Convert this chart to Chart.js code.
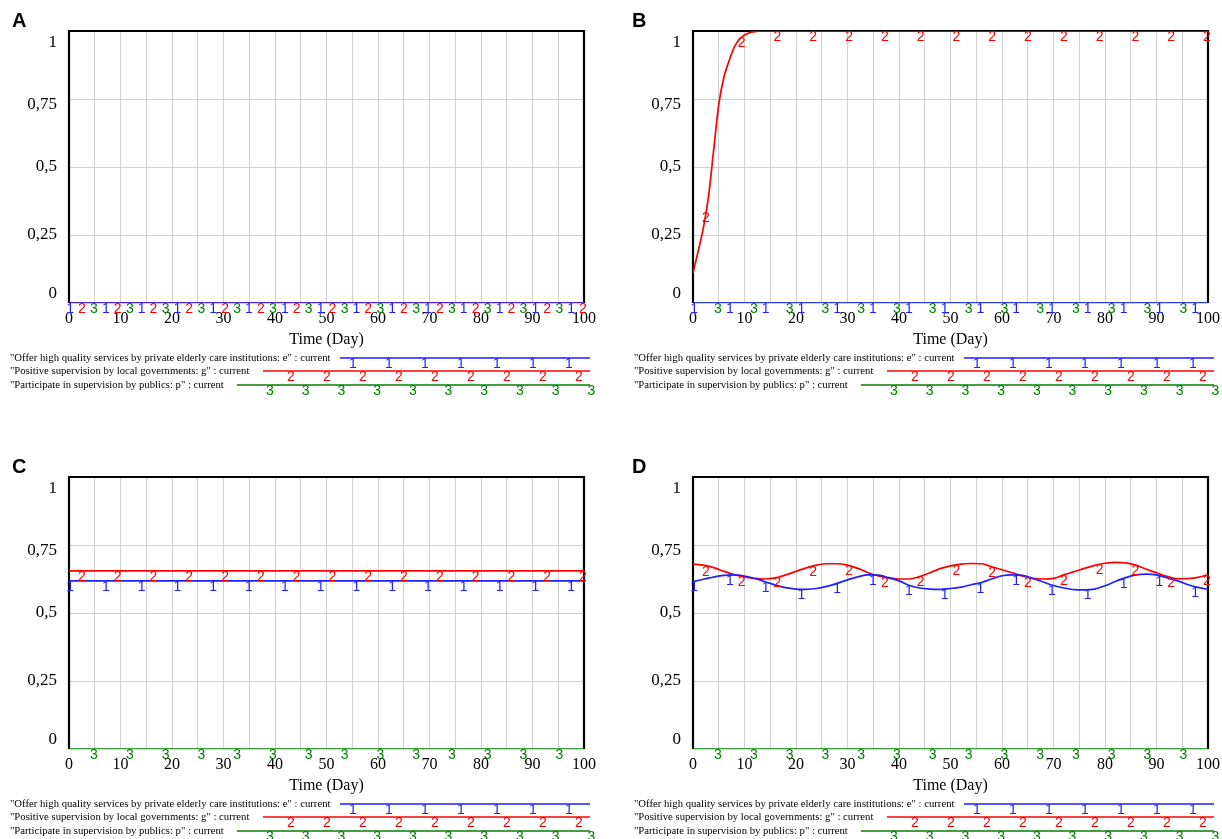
<!DOCTYPE html>
<html><head><meta charset="utf-8">
<script src="https://cdn.jsdelivr.net/npm/chart.js@4.4.1/dist/chart.umd.min.js"></script>
<style>
html,body{margin:0;padding:0;background:#fff;width:1222px;height:839px;overflow:hidden}
canvas{position:absolute}
</style></head><body>
<canvas id="cA" width="598" height="400" style="left:0px;top:0px"></canvas>
<canvas id="cB" width="598" height="400" style="left:624px;top:0px"></canvas>
<canvas id="cC" width="598" height="393" style="left:0px;top:446px"></canvas>
<canvas id="cD" width="598" height="393" style="left:624px;top:446px"></canvas>
<script>
// ---------- data ----------
const X_TICK_LABELS = ['0','10','20','30','40','50','60','70','80','90','100'];
const Y_TICK_LABELS = ['0','0,25','0,5','0,75','1'];
const SERIES_NAMES = [
  '"Offer high quality services by private elderly care institutions: e" : current',
  '"Positive supervision by local governments: g" : current',
  '"Participate in supervision by publics: p" : current'
];
const PANEL_LETTERS = ['A','B','C','D'];

// Panel A
const TIME_A = [0,10,20,30,40,50,60,70,80,90,100];
const A_E = [0,0,0,0,0,0,0,0,0,0,0];
const A_G = [0,0,0,0,0,0,0,0,0,0,0];
const A_P = [0,0,0,0,0,0,0,0,0,0,0];

// Panel B
const TIME_B = [0,1,2,3,4,5,6,7,8,9,10,11,12,13,14,15,20,25,30,35,40,45,50,55,60,65,70,75,80,85,90,95,100];
const B_E = [0,0,0,0,0,0,0,0,0,0,0,0,0,0,0,0,0,0,0,0,0,0,0,0,0,0,0,0,0,0,0,0,0];
const B_G = [0.11,0.19,0.275,0.39,0.56,0.73,0.83,0.89,0.94,0.97,0.985,0.994,0.998,1,1,1,1,1,1,1,1,1,1,1,1,1,1,1,1,1,1,1,1];
const B_P = [0,0,0,0,0,0,0,0,0,0,0,0,0,0,0,0,0,0,0,0,0,0,0,0,0,0,0,0,0,0,0,0,0];

// Panel C
const TIME_C = [0,10,20,30,40,50,60,70,80,90,100];
const C_E = [0.618,0.618,0.618,0.618,0.618,0.618,0.618,0.618,0.618,0.618,0.618];
const C_G = [0.655,0.655,0.655,0.655,0.655,0.655,0.655,0.655,0.655,0.655,0.655];
const C_P = [0,0,0,0,0,0,0,0,0,0,0];

// Panel D
const TIME_D = [0,2,4,6,8,10,12,14,16,18,20,22,24,26,28,30,32,34,36,38,40,42,44,46,48,50,
  52,54,56,58,60,62,64,66,68,70,72,74,76,78,80,82,84,86,88,90,92,94,96,98,100];
const D_E = [0.615,0.624,0.632,0.638,0.640,0.636,0.627,0.615,0.603,0.593,0.588,0.587,0.590,0.598,0.609,0.622,0.633,0.640,0.639,0.630,0.618,0.601,0.592,0.588,0.587,0.590,
  0.595,0.604,0.612,0.625,0.637,0.640,0.638,0.627,0.614,0.601,0.592,0.586,0.585,0.588,0.600,0.616,0.630,0.640,0.643,0.640,0.630,0.619,0.605,0.594,0.587];
const D_G = [0.680,0.676,0.667,0.653,0.641,0.633,0.627,0.625,0.629,0.640,0.653,0.666,0.676,0.681,0.681,0.676,0.664,0.648,0.636,0.628,0.625,0.625,0.634,0.648,0.663,0.673,
  0.680,0.682,0.681,0.670,0.659,0.648,0.636,0.627,0.625,0.627,0.640,0.652,0.664,0.675,0.683,0.686,0.684,0.676,0.661,0.648,0.635,0.626,0.626,0.631,0.640];
const D_P = [0,0,0,0,0,0,0,0,0,0,0,0,0,0,0,0,0,0,0,0,0,0,0,0,0,0,
  0,0,0,0,0,0,0,0,0,0,0,0,0,0,0,0,0,0,0,0,0,0,0,0,0];

// ---------- style ----------
const COLORS = ['#1f1fff','#ff0000','#008000'];
const MARK_CHARS = ['1','2','3'];
const MARK_START = [0.2, 2.5, 4.85];
const MARK_STEP = 6.95;
// vertical shift (px) of each y tick label, by tick index (0 = bottom)
const Y_LABEL_SHIFT = [-9, 0, 0, 6, 12];
const LEG_ROWS = [
  {y:358, x0:340, first:353, step:36, n:7},
  {y:371, x0:263, first:291, step:36, n:9},
  {y:385, x0:237, first:270, step:35.7, n:10}
];
const LEG_END = 590;
const SERIF = '"Liberation Serif","Times New Roman",serif';
const SANS = '"Liberation Sans",Arial,sans-serif';

function interp(xs, ys, t){
  if (t <= xs[0]) return ys[0];
  for (let i=1;i<xs.length;i++){
    if (t <= xs[i]){
      const f = (t - xs[i-1])/(xs[i]-xs[i-1]);
      return ys[i-1] + f*(ys[i]-ys[i-1]);
    }
  }
  return ys[ys.length-1];
}

const vensimPlugin = {
  id: 'vensim',
  beforeDatasetsDraw(chart){
    const {ctx, chartArea:a} = chart;
    ctx.save();
    ctx.strokeStyle = '#000';
    ctx.lineWidth = 2.2;
    ctx.beginPath();
    ctx.moveTo(a.left, a.bottom);
    ctx.lineTo(a.left, a.top);
    ctx.lineTo(a.right, a.top);
    ctx.lineTo(a.right, a.bottom);
    ctx.stroke();
    ctx.restore();
  },
  afterDatasetsDraw(chart){
    const {ctx} = chart;
    const xs = chart.scales.x, ys = chart.scales.y;
    const labels = chart.data.labels;
    ctx.save();
    ctx.font = '14px ' + SANS;
    ctx.textAlign = 'center';
    ctx.textBaseline = 'top';
    for (let d = chart.data.datasets.length-1; d >= 0; d--){
      const ds = chart.data.datasets[d];
      ctx.fillStyle = ds.borderColor;
      for (let t = MARK_START[d]; t <= 100.01; t += MARK_STEP){
        const v = interp(labels, ds.data, t);
        ctx.fillText(MARK_CHARS[d], xs.getPixelForValue(t), ys.getPixelForValue(v) - 1);
      }
    }
    ctx.restore();
  },
  afterDraw(chart){
    const {ctx} = chart;
    const opts = chart.options.plugins.vensim;
    ctx.save();
    ctx.font = 'bold 20px ' + SANS;
    ctx.fillStyle = '#000';
    ctx.textAlign = 'left';
    ctx.textBaseline = 'middle';
    ctx.fillText(opts.letter, opts.letterX, 21);
    for (let r=0;r<3;r++){
      const row = LEG_ROWS[r];
      ctx.font = '10.7px ' + SERIF;
      ctx.fillStyle = '#000';
      ctx.textAlign = 'left';
      ctx.textBaseline = 'middle';
      ctx.fillText(SERIES_NAMES[r], 10, row.y);
      ctx.strokeStyle = COLORS[r];
      ctx.lineWidth = 1.4;
      ctx.beginPath();
      ctx.moveTo(row.x0, row.y);
      ctx.lineTo(LEG_END, row.y);
      ctx.stroke();
      ctx.font = '14px ' + SANS;
      ctx.fillStyle = COLORS[r];
      ctx.textAlign = 'center';
      ctx.textBaseline = 'top';
      for (let k=0;k<row.n;k++){
        ctx.fillText(MARK_CHARS[r], row.first + k*row.step, row.y - 1);
      }
    }
    ctx.restore();
  }
};

function yTickFont(c){
  const i = c && c.index != null ? c.index : 1;
  const s = Math.abs(Y_LABEL_SHIFT[i] || 0);
  return s > 0 ? { family: SERIF, size: 17, lineHeight: (2*s) + 'px' }
               : { family: SERIF, size: 17 };
}

function makeChart(id, letter, letterX, time, e, g, p){
  const H = document.getElementById(id).height;
  const mk = (data, i) => ({
    data, borderColor: COLORS[i], backgroundColor: COLORS[i],
    borderWidth: 1.7, pointRadius: 0, fill: false,
    cubicInterpolationMode: 'monotone'
  });
  return new Chart(document.getElementById(id), {
    type: 'line',
    data: { labels: time, datasets: [mk(e,0), mk(g,1), mk(p,2)] },
    options: {
      responsive: false, animation: false, devicePixelRatio: 1,
      layout: { padding: { left: 0, top: 31, right: 598 - 584, bottom: H - 303 - 50 } },
      plugins: { legend: {display:false}, tooltip: {enabled:false}, vensim: {letter, letterX} },
      scales: {
        x: {
          type: 'linear', min: 0, max: 100,
          afterFit(s){ s.height = 50; s.paddingLeft = 0; s.paddingRight = 0; s.paddingTop = 0; s.paddingBottom = 0; },
          grid: { color: '#d0d0d0', lineWidth: 1, drawTicks: false },
          border: { display: false },
          ticks: {
            stepSize: 5, autoSkip: false, maxRotation: 0, padding: 6,
            color: '#000', font: { family: SERIF, size: 16 },
            callback: v => (v % 10 === 0 ? X_TICK_LABELS[v/10] : '')
          },
          title: { display: true, text: 'Time (Day)', color: '#000',
                   font: { family: SERIF, size: 16 }, padding: { top: 0, bottom: 4 } }
        },
        y: {
          min: 0, max: 1,
          afterFit(s){ s.width = 69; s.paddingTop = 0; s.paddingBottom = 0; s.paddingLeft = 0; s.paddingRight = 0; },
          grid: { color: '#d0d0d0', lineWidth: 1, drawTicks: false },
          border: { display: false },
          ticks: {
            stepSize: 0.25, padding: 12, color: '#000',
            font: yTickFont,
            callback: (v) => {
              const idx = Math.round(v*4);
              const lab = Y_TICK_LABELS[idx];
              const sh = Y_LABEL_SHIFT[idx] || 0;
              if (sh > 0) return ['', lab];
              if (sh < 0) return [lab, ''];
              return lab;
            }
          }
        }
      }
    },
    plugins: [vensimPlugin]
  });
}

makeChart('cA', PANEL_LETTERS[0], 12, TIME_A, A_E, A_G, A_P);
makeChart('cB', PANEL_LETTERS[1], 8, TIME_B, B_E, B_G, B_P);
makeChart('cC', PANEL_LETTERS[2], 12, TIME_C, C_E, C_G, C_P);
makeChart('cD', PANEL_LETTERS[3], 8, TIME_D, D_E, D_G, D_P);
</script>
</body></html>
